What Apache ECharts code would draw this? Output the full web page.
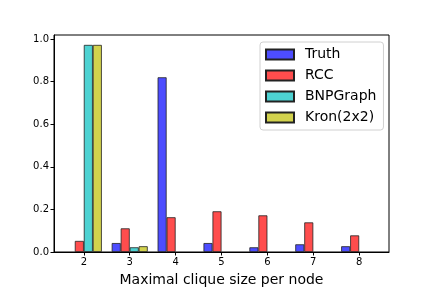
<!DOCTYPE html>
<html><head><meta charset="utf-8">
<script src="https://cdn.jsdelivr.net/npm/echarts@6/dist/echarts.min.js"></script>
<style>html,body{margin:0;padding:0;background:#fff}#c{width:432px;height:288px}</style>
</head><body><div id="c"></div>
<script>
const categories = [2, 3, 4, 5, 6, 7, 8];
const truth = [0, 0.042, 0.82, 0.042, 0.022, 0.036, 0.027];
const rcc = [0.052, 0.111, 0.163, 0.191, 0.172, 0.139, 0.078];
const bnp = [0.972, 0.022, 0, 0, 0, 0, 0];
const kron = [0.972, 0.027, 0, 0, 0, 0, 0];
const yTicks = [0, 0.2, 0.4, 0.6, 0.8, 1.0];
const names = ['Truth', 'RCC', 'BNPGraph', 'Kron(2x2)'];
const colors = ['rgb(77,77,255)', 'rgb(255,77,77)', 'rgb(77,210,210)', 'rgb(210,210,77)'];
const seriesVals = [truth, rcc, bnp, kron];
const FONT = 'DejaVu Sans';
const chart = echarts.init(document.getElementById('c'), null, {renderer: 'canvas'});
chart.setOption({
  animation: false,
  textStyle: {fontFamily: FONT},
  grid: {left: 54, right: 43, top: 35, bottom: 36, containLabel: false, outerBoundsMode: 'none',
         show: true, borderColor: '#000', borderWidth: 1, backgroundColor: 'transparent'},
  legend: {
    orient: 'vertical', left: 260, top: 42, data: names,
    itemWidth: 28, itemHeight: 10, itemGap: 4,
    padding: [4, 7, 4, 5],
    backgroundColor: '#fff', borderColor: '#d0d0d0', borderWidth: 1, borderRadius: 3,
    textStyle: {fontFamily: FONT, fontSize: 14, color: '#000', lineHeight: 17, padding: [0, 0, 0, 6]},
    icon: 'rect'
  },
  xAxis: {
    type: 'value', min: 1.35, max: 8.65,
    name: 'Maximal clique size per node', nameLocation: 'middle', nameGap: 21,
    nameTextStyle: {fontFamily: FONT, fontSize: 14, color: '#000'},
    axisLine: {show: true, lineStyle: {color: '#000', width: 1}},
    axisTick: {show: true, inside: false, length: 3.5, lineStyle: {color: '#000'}, customValues: categories},
    axisLabel: {fontFamily: FONT, fontSize: 10, color: '#000', margin: 5, customValues: categories, formatter: v => String(v)},
    splitLine: {show: false}
  },
  yAxis: {
    type: 'value', min: 0, max: 1.0185,
    axisLine: {show: true, lineStyle: {color: '#000', width: 1}},
    axisTick: {show: true, length: 3.5, lineStyle: {color: '#000'}, customValues: yTicks},
    axisLabel: {fontFamily: FONT, fontSize: 10, color: '#000', margin: 5, customValues: yTicks, formatter: v => v.toFixed(1)},
    splitLine: {show: false}
  },
  series: names.map((n, i) => ({
    name: n, type: 'bar', barWidth: 9, barGap: '0%',
    itemStyle: {color: colors[i], borderColor: '#222', borderWidth: 0.8},
    data: categories.map((c, j) => [c, seriesVals[i][j] === 0 ? null : seriesVals[i][j]])
  }))
});
</script></body></html>
